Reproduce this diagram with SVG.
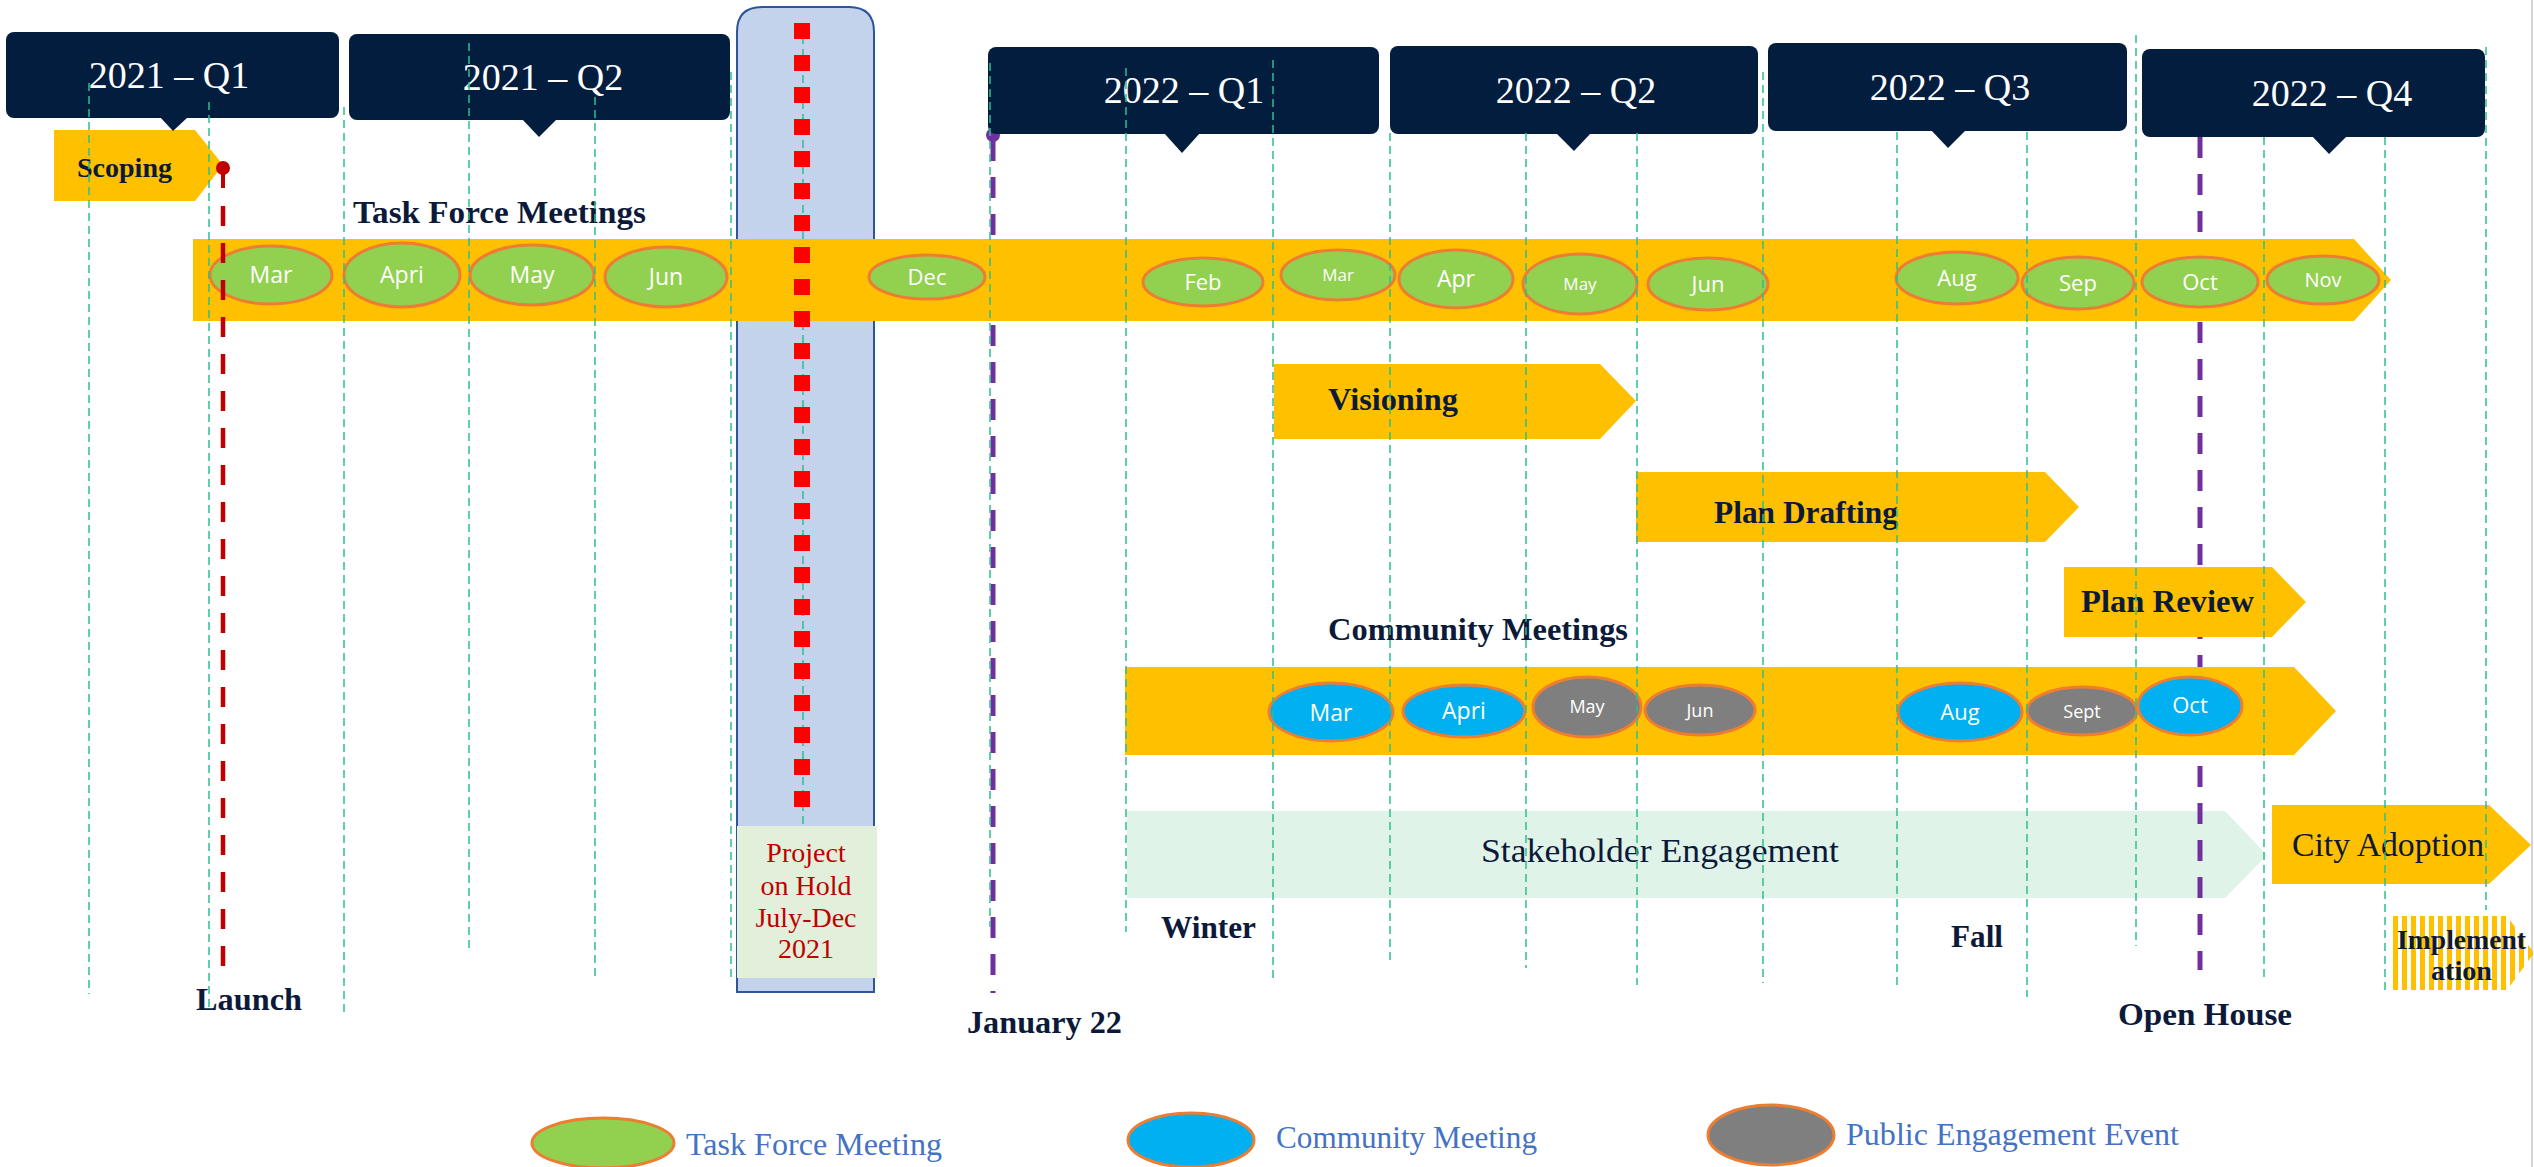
<svg xmlns="http://www.w3.org/2000/svg" width="2534" height="1167" viewBox="0 0 2534 1167">
<defs>
<style>
.qbox{fill:#031d3e;}
.qtxt{font-family:"Liberation Serif",serif;font-size:38px;fill:#ffffff;text-anchor:middle;}
.band{fill:#ffc000;}
.lbl{font-family:"Liberation Serif",serif;font-weight:bold;font-size:31px;fill:#0c1a3a;}
.tf{fill:#92d050;stroke:#ed7d31;stroke-width:3;}
.cm{fill:#00b0f0;stroke:#ed7d31;stroke-width:3;}
.pe{fill:#7f7f7f;stroke:#ed7d31;stroke-width:3;}
.et{font-family:"Open Sans","Noto Sans",sans-serif;fill:#ffffff;text-anchor:middle;}
.grid{stroke:#2dbf8f;stroke-width:1.5;stroke-dasharray:8 5;fill:none;}
.purple{stroke:#7030a0;stroke-width:5;stroke-dasharray:21 16;fill:none;}
.leg{font-family:"Liberation Serif",serif;font-size:31px;fill:#4472c4;}
.hold{font-family:"Liberation Serif",serif;font-size:28px;fill:#c00000;text-anchor:middle;}
</style>
<pattern id="stripes" x="2393" y="0" width="9" height="20" patternUnits="userSpaceOnUse">
<rect x="0" y="0" width="9" height="20" fill="#ffffff"/>
<rect x="0" y="0" width="5" height="20" fill="#ffc000"/>
</pattern>
</defs>
<rect x="0" y="0" width="2534" height="1167" fill="#ffffff"/>
<line x1="2532" y1="0" x2="2532" y2="1167" stroke="#d4d4d4" stroke-width="2"/>

<g id="hold">
<path d="M737,992 L737,32 Q737,7 762,7 L849,7 Q874,7 874,32 L874,992 Z" fill="#c3d3eb" stroke="#2f5597" stroke-width="2"/>
<rect x="737" y="826" width="140" height="152" fill="#e2efda"/>
<line class="grid" x1="803" y1="23" x2="803" y2="826"/>
<text class="hold" x="806" y="862">Project</text>
<text class="hold" x="806" y="895">on Hold</text>
<text class="hold" x="806" y="927">July-Dec</text>
<text class="hold" x="806" y="958">2021</text>
</g>

<g id="stakeholder">
<polygon points="1127,811 2225,811 2267,855 2225,898 1127,898" fill="#e0f3e8"/>
<text class="lbl" x="1481" y="862" textLength="358" lengthAdjust="spacingAndGlyphs" style="font-weight:normal;font-size:33px">Stakeholder Engagement</text>
</g>

<g id="connectors">
<line class="purple" x1="993" y1="140" x2="993" y2="993"/>
<circle cx="993" cy="135" r="7" fill="#7030a0"/>
<line class="purple" x1="2200" y1="137" x2="2200" y2="970"/>
</g>

<g id="taskforce">
<polygon class="band" points="193,239 2354,239 2391,280 2354,321 193,321"/>
<text class="lbl" x="353" y="223" textLength="293" lengthAdjust="spacingAndGlyphs">Task Force Meetings</text>
<ellipse class="tf" cx="271" cy="275" rx="61" ry="29"/><text class="et" x="271" y="283" font-size="23">Mar</text>
<ellipse class="tf" cx="402" cy="275" rx="58" ry="32"/><text class="et" x="402" y="283" font-size="23">Apri</text>
<ellipse class="tf" cx="532" cy="275" rx="62" ry="30"/><text class="et" x="532" y="283" font-size="23">May</text>
<ellipse class="tf" cx="666" cy="277" rx="61" ry="30"/><text class="et" x="666" y="285" font-size="23">Jun</text>
<ellipse class="tf" cx="927" cy="277" rx="58" ry="22"/><text class="et" x="927" y="285" font-size="22">Dec</text>
<ellipse class="tf" cx="1203" cy="282" rx="60" ry="24"/><text class="et" x="1203" y="290" font-size="22">Feb</text>
<ellipse class="tf" cx="1338" cy="275" rx="57" ry="25"/><text class="et" x="1338" y="281" font-size="17">Mar</text>
<ellipse class="tf" cx="1456" cy="279" rx="57" ry="29"/><text class="et" x="1456" y="287" font-size="23">Apr</text>
<ellipse class="tf" cx="1580" cy="284" rx="57" ry="30"/><text class="et" x="1580" y="290" font-size="17">May</text>
<ellipse class="tf" cx="1708" cy="284" rx="60" ry="26"/><text class="et" x="1708" y="292" font-size="22">Jun</text>
<ellipse class="tf" cx="1957" cy="278" rx="61" ry="26"/><text class="et" x="1957" y="286" font-size="22">Aug</text>
<ellipse class="tf" cx="2078" cy="283" rx="56" ry="26"/><text class="et" x="2078" y="291" font-size="22">Sep</text>
<ellipse class="tf" cx="2200" cy="282" rx="58" ry="25"/><text class="et" x="2200" y="290" font-size="22">Oct</text>
<ellipse class="tf" cx="2323" cy="280" rx="56" ry="24"/><text class="et" x="2323" y="287" font-size="20">Nov</text>
</g>

<g id="scoping">
<polygon class="band" points="54,130 195,130 223,165 195,201 54,201"/>
<text class="lbl" x="77" y="177" textLength="95" lengthAdjust="spacingAndGlyphs" style="font-size:27px">Scoping</text>
</g>

<g id="visioning">
<polygon class="band" points="1274,364 1600,364 1636,401 1600,439 1274,439"/>
<text class="lbl" x="1328" y="410" textLength="130" lengthAdjust="spacingAndGlyphs">Visioning</text>
</g>

<g id="plandrafting">
<polygon class="band" points="1636,472 2045,472 2079,507 2045,542 1636,542"/>
<text class="lbl" x="1714" y="523" textLength="184" lengthAdjust="spacingAndGlyphs">Plan Drafting</text>
</g>

<g id="planreview">
<polygon class="band" points="2064,567 2272,567 2306,602 2272,637 2064,637"/>
<text class="lbl" x="2081" y="612" textLength="173" lengthAdjust="spacingAndGlyphs">Plan Review</text>
</g>

<g id="community">
<text class="lbl" x="1328" y="640" textLength="300" lengthAdjust="spacingAndGlyphs">Community Meetings</text>
<polygon class="band" points="1125,667 2294,667 2336,711 2294,755 1125,755"/>
<ellipse class="cm" cx="1331" cy="712" rx="62" ry="29"/><text class="et" x="1331" y="721" font-size="23">Mar</text>
<ellipse class="cm" cx="1464" cy="711" rx="61" ry="26"/><text class="et" x="1464" y="719" font-size="23">Apri</text>
<ellipse class="pe" cx="1587" cy="707" rx="54" ry="30"/><text class="et" x="1587" y="713" font-size="18">May</text>
<ellipse class="pe" cx="1700" cy="710" rx="55" ry="25"/><text class="et" x="1700" y="717" font-size="18">Jun</text>
<ellipse class="cm" cx="1960" cy="712" rx="62" ry="29"/><text class="et" x="1960" y="720" font-size="22">Aug</text>
<ellipse class="pe" cx="2082" cy="711" rx="55" ry="24"/><text class="et" x="2082" y="718" font-size="18">Sept</text>
<ellipse class="cm" cx="2190" cy="706" rx="52" ry="29"/><text class="et" x="2190" y="713" font-size="22">Oct</text>
</g>

<g id="cityadoption">
<polygon class="band" points="2272,805 2489,805 2531,845 2489,884 2272,884"/>
<text class="lbl" x="2292" y="856" textLength="192" lengthAdjust="spacingAndGlyphs" style="font-weight:normal;font-size:33px">City Adoption</text>
</g>

<g id="implementation">
<polygon points="2393,916 2507,916 2534,953 2507,990 2393,990" fill="url(#stripes)"/>
<text class="lbl" x="2397" y="949" textLength="129" lengthAdjust="spacingAndGlyphs" style="font-size:27px">Implement</text>
<text class="lbl" x="2431" y="980" textLength="61" lengthAdjust="spacingAndGlyphs" style="font-size:27px">ation</text>
</g>

<g id="quarters">
<g id="q2021-1"><rect class="qbox" x="6" y="32" width="333" height="86" rx="8"/><polygon class="qbox" points="160,117 188,117 173,131"/><text class="qtxt" x="169" y="88">2021 – Q1</text></g>
<g id="q2021-2"><rect class="qbox" x="349" y="34" width="381" height="86" rx="8"/><polygon class="qbox" points="522,119 557,119 539,137"/><text class="qtxt" x="543" y="90">2021 – Q2</text></g>
<g id="q2022-1"><rect class="qbox" x="988" y="47" width="391" height="87" rx="8"/><polygon class="qbox" points="1164,133 1200,133 1182,153"/><text class="qtxt" x="1184" y="103">2022 – Q1</text></g>
<g id="q2022-2"><rect class="qbox" x="1390" y="46" width="368" height="88" rx="8"/><polygon class="qbox" points="1556,133 1591,133 1574,151"/><text class="qtxt" x="1576" y="103">2022 – Q2</text></g>
<g id="q2022-3"><rect class="qbox" x="1768" y="43" width="359" height="88" rx="8"/><polygon class="qbox" points="1931,130 1966,130 1948,148"/><text class="qtxt" x="1950" y="100">2022 – Q3</text></g>
<g id="q2022-4"><rect class="qbox" x="2142" y="49" width="343" height="88" rx="8"/><polygon class="qbox" points="2312,136 2347,136 2329,154"/><text class="qtxt" x="2332" y="106">2022 – Q4</text></g>
</g>

<g id="milestones">
<line x1="223" y1="168" x2="223" y2="188" stroke="#c00000" stroke-width="4"/>
<line x1="223" y1="206" x2="223" y2="973" stroke="#c00000" stroke-width="4.5" stroke-dasharray="20 17"/>
<circle cx="223" cy="168" r="7" fill="#c00000"/>
<line x1="802" y1="23" x2="802" y2="807" stroke="#ff0000" stroke-width="16" stroke-dasharray="16 16"/>
<text class="lbl" x="196" y="1010" textLength="106" lengthAdjust="spacingAndGlyphs">Launch</text>
<text class="lbl" x="967" y="1033" textLength="155" lengthAdjust="spacingAndGlyphs">January 22</text>
<text class="lbl" x="2118" y="1025" textLength="174" lengthAdjust="spacingAndGlyphs">Open House</text>
<text class="lbl" x="1161" y="938" textLength="95" lengthAdjust="spacingAndGlyphs">Winter</text>
<text class="lbl" x="1951" y="947" textLength="52" lengthAdjust="spacingAndGlyphs">Fall</text>
</g>

<g id="grid">
<line class="grid" x1="89" y1="83" x2="89" y2="994"/>
<line class="grid" x1="209" y1="102" x2="209" y2="1012"/>
<line class="grid" x1="344" y1="107" x2="344" y2="1017"/>
<line class="grid" x1="469" y1="43" x2="469" y2="953"/>
<line class="grid" x1="595" y1="97" x2="595" y2="978"/>
<line class="grid" x1="731" y1="72" x2="731" y2="982"/>
<line class="grid" x1="990" y1="63" x2="990" y2="927"/>
<line class="grid" x1="1126" y1="68" x2="1126" y2="932"/>
<line class="grid" x1="1273" y1="60" x2="1273" y2="980"/>
<line class="grid" x1="1390" y1="133" x2="1390" y2="965"/>
<line class="grid" x1="1526" y1="133" x2="1526" y2="968"/>
<line class="grid" x1="1637" y1="133" x2="1637" y2="985"/>
<line class="grid" x1="1763" y1="72" x2="1763" y2="983"/>
<line class="grid" x1="1897" y1="132" x2="1897" y2="987"/>
<line class="grid" x1="2027" y1="132" x2="2027" y2="997"/>
<line class="grid" x1="2136" y1="35" x2="2136" y2="946"/>
<line class="grid" x1="2264" y1="137" x2="2264" y2="978"/>
<line class="grid" x1="2385" y1="137" x2="2385" y2="990"/>
<line class="grid" x1="2486" y1="47" x2="2486" y2="910"/>
</g>

<g id="legend">
<ellipse class="tf" cx="603" cy="1143" rx="71" ry="25"/>
<text class="leg" x="686" y="1155" textLength="256" lengthAdjust="spacingAndGlyphs">Task Force Meeting</text>
<ellipse class="cm" cx="1191" cy="1140" rx="63" ry="27"/>
<text class="leg" x="1276" y="1148" textLength="261" lengthAdjust="spacingAndGlyphs">Community Meeting</text>
<ellipse class="pe" cx="1771" cy="1135" rx="63" ry="30"/>
<text class="leg" x="1846" y="1145" textLength="333" lengthAdjust="spacingAndGlyphs">Public Engagement Event</text>
</g>
</svg>
